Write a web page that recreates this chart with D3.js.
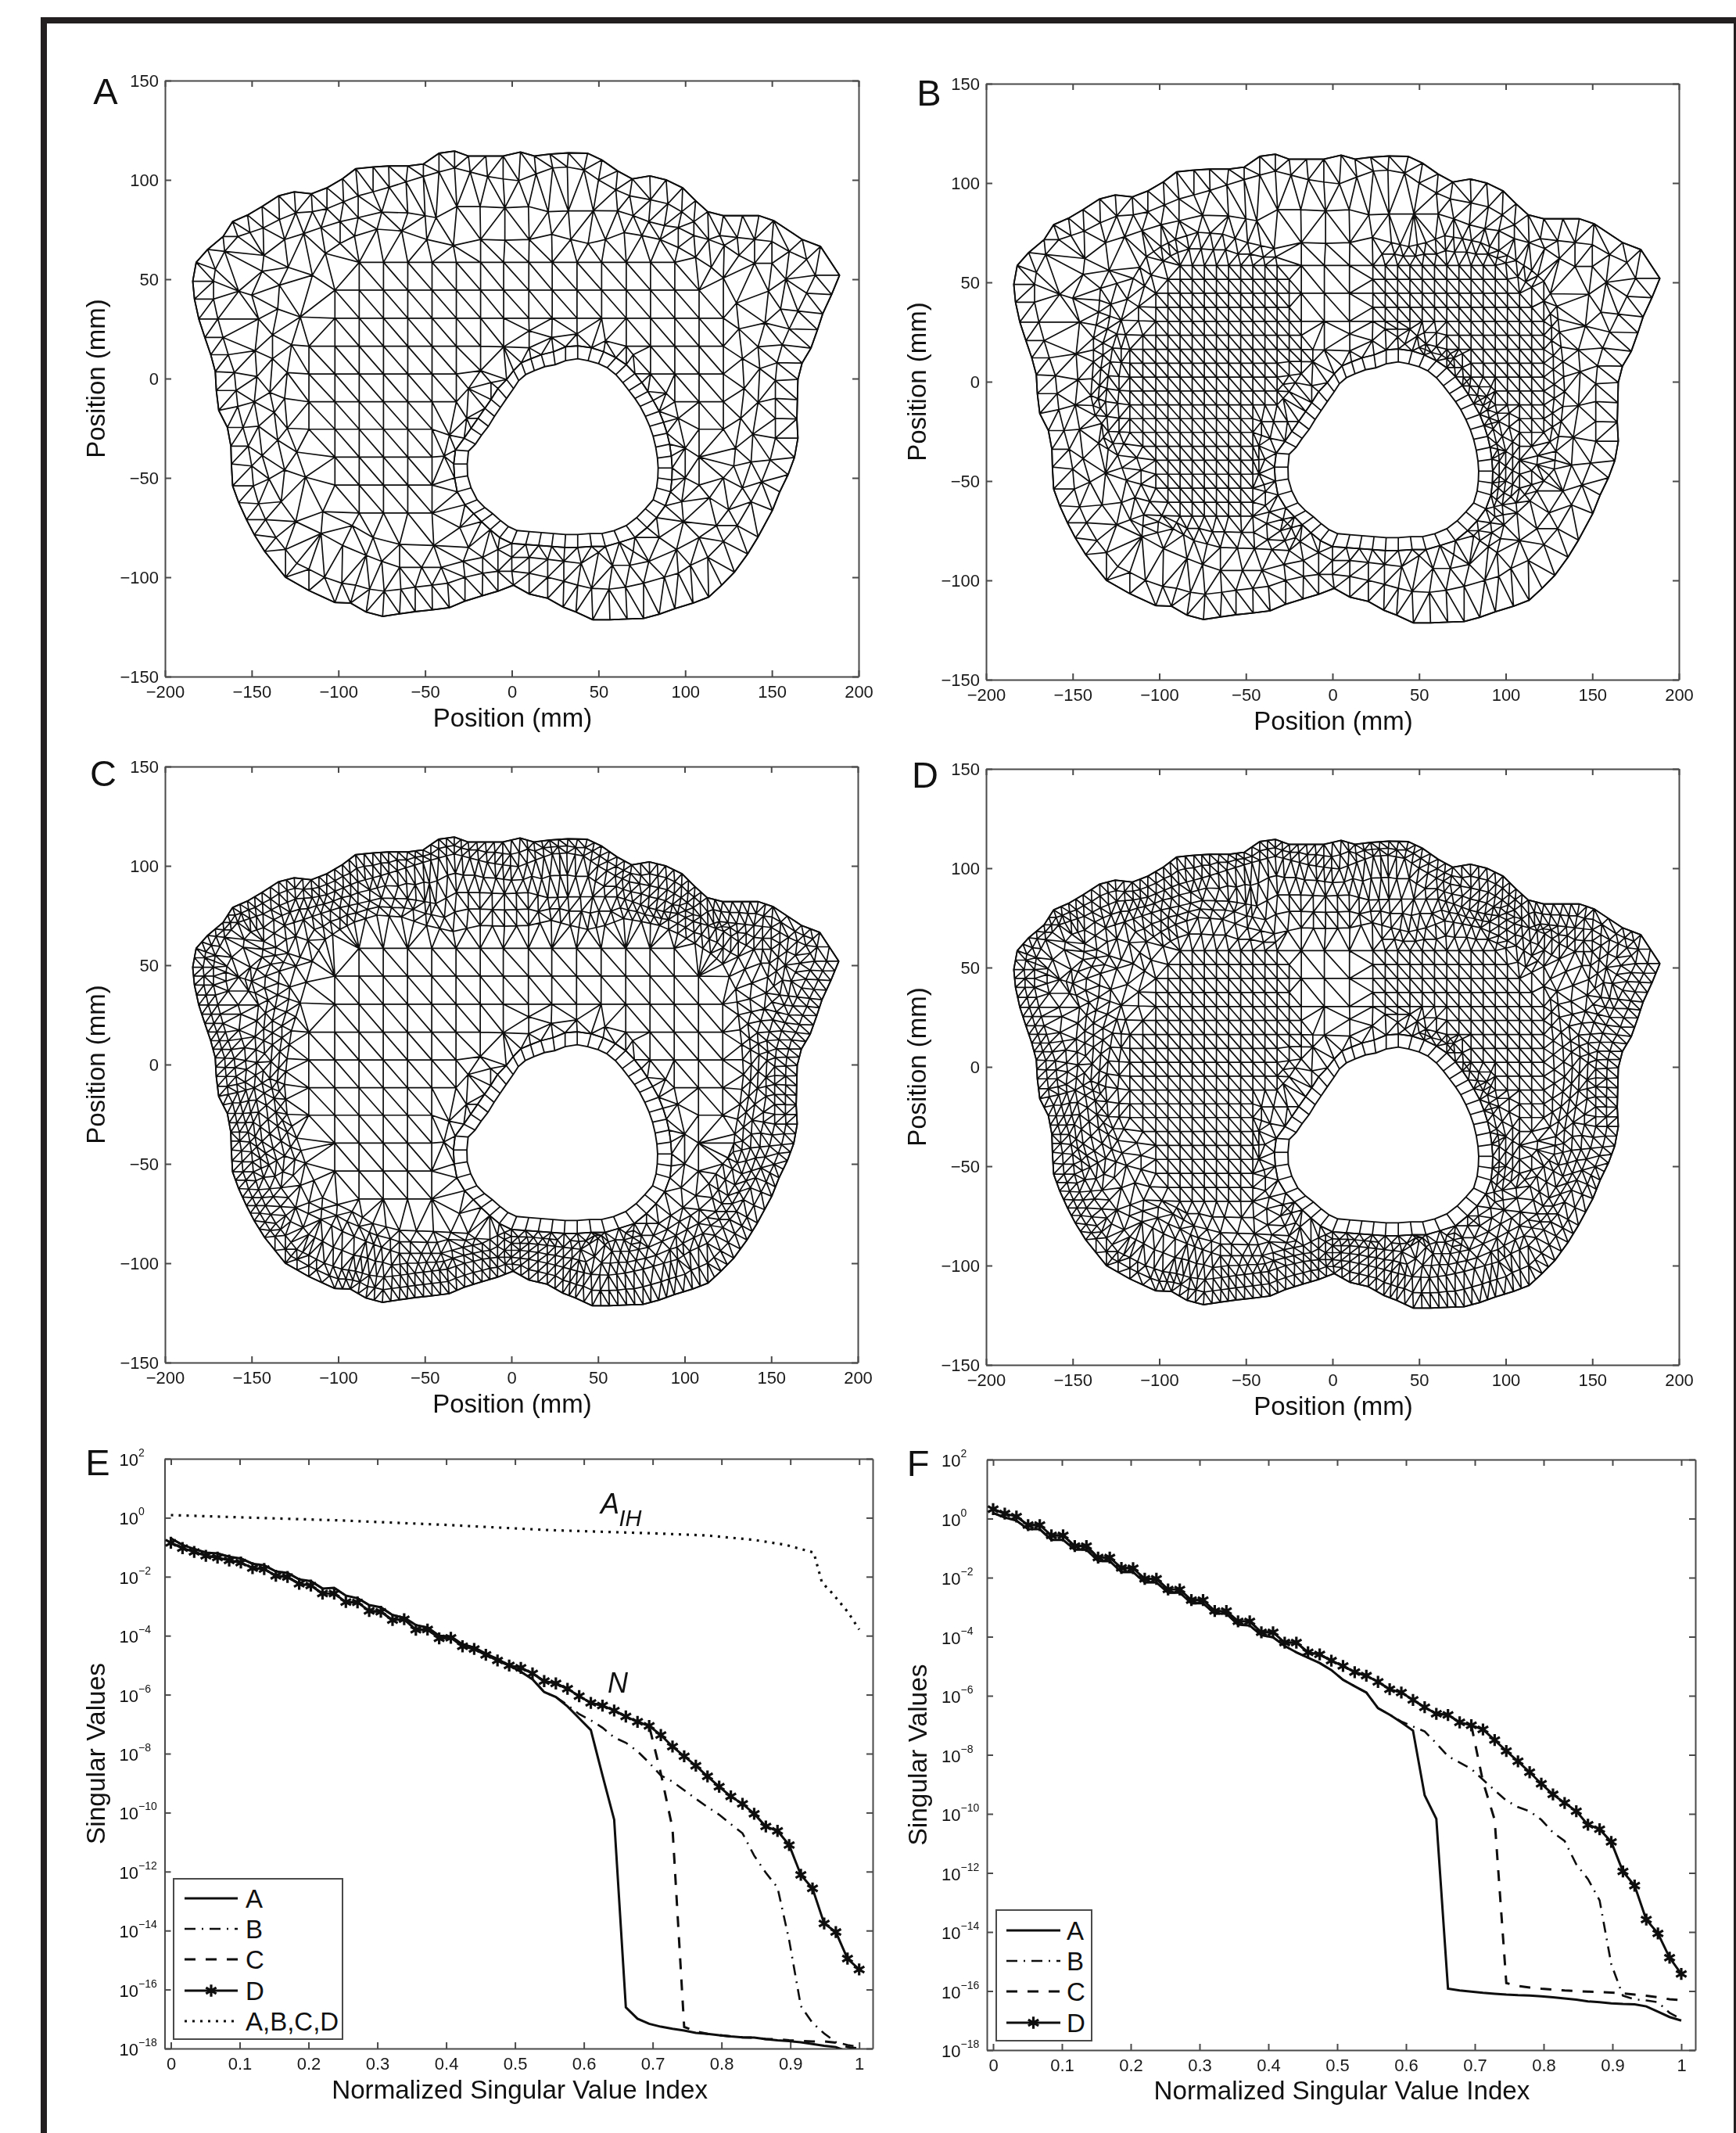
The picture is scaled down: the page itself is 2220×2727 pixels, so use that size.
<!DOCTYPE html>
<html><head><meta charset="utf-8">
<script src="https://cdnjs.cloudflare.com/ajax/libs/d3/7.8.5/d3.min.js"></script>
<style>
html,body{margin:0;padding:0;background:#fff}
svg{display:block;filter:blur(0.55px)}
text{font-family:"Liberation Sans",Arial,sans-serif;fill:#111}
</style></head><body>
<svg id="fig" width="2220" height="2727"></svg>
<script>
// ---------- mesh node data (mm) ----------
const outlineNodes=[[189,52],[178,66.5],[167.5,70],[151,79.5],[142.5,82],[133,82],[122,82],[113,84],[106,89.5],[98.5,96],[89,100],[79.6,102],[69.5,100.5],[61,104.5],[52,110],[43.7,113.4],[32.6,113.6],[22,113],[13,112],[5,114],[-5,112],[-15,112],[-25,112],[-33,114.5],[-42,113.4],[-51,108],[-60,107],[-71,107],[-80,106.5],[-90,105.6],[-97.6,100.6],[-106.6,96],[-115.6,93],[-125.4,94],[-134.4,92],[-144,86.6],[-152.4,82.3],[-161,79],[-166.5,71.5],[-175.4,65],[-182,58.5],[-184,49],[-183,40],[-180.5,30],[-177,20.7],[-173.6,12],[-171,3.5],[-170.4,-6],[-169,-16],[-164,-24.6],[-162,-34],[-161.7,-43],[-161,-54],[-157.5,-62.4],[-153,-71],[-148.5,-78.6],[-142.5,-87],[-130.5,-100],[-117,-106.7],[-102,-112.7],[-93,-113],[-84,-117.5],[-74.5,-119.7],[-64.7,-118.4],[-55.7,-117.3],[-45.8,-116.4],[-36,-115.3],[-27,-112],[-17,-109.3],[-8,-107],[1,-104],[10,-108.4],[20.7,-110.6],[29.6,-115],[37,-117.5],[46.7,-121.4],[56.6,-121.4],[66.5,-121],[76,-120.7],[85,-118.6],[94,-115.8],[104.5,-113],[113.5,-110],[121,-104],[128.4,-97.4],[136,-88.3],[142,-79.7],[150.3,-66.3],[154.5,-57],[159.3,-48.4],[163,-39.7],[165,-30],[164.4,-20.3],[164.7,-10.6],[165,-0.4],[167.4,7.8],[172.5,15.3],[176.3,24.6],[179.3,32.6],[184.4,42.3]];
const holeNodes=[[38,10],[44,9],[50,7.5],[55,5.5],[60,2],[64,-2],[67.5,-6],[71,-10],[74,-14],[77,-19],[79.5,-24],[81.5,-29],[83,-34.5],[84,-40],[84.4,-45],[84.2,-50],[83.5,-55],[81.5,-61],[77,-65.5],[72,-70],[66,-74],[59,-76.5],[52,-78],[45,-78],[38,-78.5],[31,-78.5],[24,-78],[17,-77.5],[10,-77],[3,-76.5],[-2,-74.5],[-6.5,-71.5],[-11,-68],[-15.5,-65],[-20,-61],[-23.5,-55],[-25.5,-49],[-25.7,-43],[-25,-36.5],[-21,-33],[-17.5,-28.5],[-13.5,-24],[-10,-19],[-6.5,-14.5],[-3,-10],[1,-5],[4,-1],[8,2],[13,4],[19,6],[25,7],[31,9]];
const ringNodes=[[38,16.5],[46,15.5],[53,13.5],[60,10.5],[66,7],[71,2.5],[75,-2],[78.5,-6.5],[81.5,-11],[85,-16.5],[87.5,-22],[89.5,-27.5],[91,-33],[92,-39],[92.5,-45],[92.3,-51],[91.5,-57],[88.5,-64],[83.5,-70],[78,-75],[71,-80],[62,-82.5],[54,-84.5],[46,-84.5],[38,-85],[30.5,-85],[23,-84.5],[15.5,-84],[8,-83.5],[0,-83],[-7,-80],[-12.5,-76],[-17.5,-72],[-22,-68],[-27,-63.5],[-31.5,-57],[-33,-50],[-33.5,-43],[-32.5,-36],[-27.5,-30],[-23.5,-25],[-19.5,-20],[-15.5,-15],[-12,-10.5],[-8,-5],[-3,-0.5],[1,4],[5.5,8],[11,10],[17,12],[24,13.5],[31,16]];
const contourL1=[[175,52],[170,60],[160,64],[150,69],[140,70],[130,71],[120,72],[112,74],[105,79],[98,84],[90,88],[80,90],[68,92],[60,95],[50,100],[41.6,105],[32,106.5],[23.6,106],[14,103],[4,99.6],[-5,100.5],[-14,101.7],[-24,104],[-33,106],[-42,104],[-51,101.7],[-61,99],[-70.7,96.3],[-80,94],[-88.6,92],[-97,89],[-106.6,85.5],[-115,84],[-124.6,83.4],[-134,80],[-143.4,75.8],[-151,73.5],[-158,71.5],[-165.6,64],[-171,55],[-172,49],[-172,40],[-169.5,30],[-166.5,20.7],[-163.5,12],[-160,3],[-159,-6],[-158,-14],[-155,-24.6],[-152,-34],[-150,-44],[-149,-54],[-146,-63],[-142,-71],[-136,-80],[-130.5,-86],[-124,-93],[-117,-96],[-108,-100],[-98,-103],[-90,-104],[-82,-106],[-73.6,-107],[-64,-106],[-55.7,-105],[-46,-104],[-37,-103],[-27,-100],[-16.8,-98],[-8,-97],[0,-97],[10,-98],[20.7,-100],[30,-102],[38,-104],[46,-105.6],[56,-106],[65.6,-105],[76,-103],[88,-100],[96,-98],[103,-94],[113,-90],[122,-82],[130,-74],[138,-62],[144,-52],[149,-41],[152,-30],[152,-20],[152,-10],[152,-1],[153,8],[156,17],[160,25],[165,34],[170,43]];
const contourL2=[[-143,62],[-131,70],[-120,73],[-110,76],[-99,79],[-88.6,81],[-75,83.8],[-60,83.4],[-50,82],[-43.7,81],[-31.7,86.6],[-18.3,86.6],[-4,86],[9.6,86.6],[21,84],[32.6,84.4],[47,84.5],[61,84.4],[70,82],[79,79],[88,77],[96,76],[105,72],[113.5,70],[122.5,67],[131,62],[140,58],[150,58],[158,50],[148,44],[155,35],[146,28],[142,16],[143,5],[136,-2],[142,-12],[133,-20],[139,-28],[133,-33],[138,-42],[128,-44],[133,-55],[125,-66],[118,-74],[108,-80],[95,-86],[79,-92],[68,-94],[58,-94],[40,-93],[30,-92],[20.7,-91],[10,-90],[0,-90],[-8,-90],[-16.8,-90],[-28,-92],[-40.7,-95],[-52,-95],[-64.7,-95],[-75,-92],[-84,-89],[-97.6,-84],[-110,-78],[-124.6,-72],[-133,-62],[-140,-50.5],[-131,-46],[-144,-38.7],[-135,-31],[-146,-24],[-137,-17],[-148.5,-11.7],[-139.5,-7],[-147,1],[-138,10],[-148,14],[-138,22],[-146,30],[-135,35],[-150,42],[-134,47],[-157.5,44],[-144,54],[-129,56]];
const contourL3=[[-107.5,63],[-99,68],[-90.7,71.7],[-77.7,75.2],[-63.5,74.3],[-49,70],[-33.7,67],[-18,70],[-4,69.6],[10,70],[23,72.6],[34,70],[44,68],[54,70],[64.8,73.5],[75,72],[85.5,70],[96,66],[106,61],[115,56],[122,50.6],[129.5,38],[131,25],[133,10],[134,-5],[132,-20],[129,-35],[122,-50],[114,-60],[99,-72],[85,-80],[70,-87],[50,-87.5],[30,-87.5],[10,-87],[-8,-86],[-25,-85],[-45,-84],[-64.7,-83.4],[-80,-80],[-92,-74],[-109,-67],[-119,-49.6],[-124,-37],[-129.5,-25],[-131,-10],[-129.5,3],[-127,17],[-122,31],[-115,52]];
const contourR2=[[23,20.7],[37.6,22.5],[54,19],[70,12],[80,5],[89,-7.4],[96,-20],[100,-35],[100,-50],[98,-62],[-39,-39],[-36,-51],[-31,-65],[-18,-74],[-36,-28.5],[-26,-20],[-18,-11],[-12,-2],[0,6.7],[10,15.5],[-32,-11.7],[-18,4],[-25,-5],[-4.7,16],[10,24],[94,-39],[94,-53],[-46,-70],[-30,-75]];
const gridRows=[
 [58.5,[-88,-74,-60,-46,-32,-18,-4.7,9.8,23.3,37.6,51.8,66,80,94]],
 [44.5,[-102,-88,-74,-60,-46,-32,-18,-4.7,9.8,23.3,37.6,51.8,66,80,94,108]],
 [30.4,[-102,-88,-74,-60,-46,-32,-18,-4.7,9.8,23.3,37.6,51.8,66,80,94,108,122]],
 [16.3,[-117,-102,-88,-74,-60,-46,-32,-18,66,80,94,108,122]],
 [2.3,[-117,-102,-88,-74,-60,-46,-32,80,94,108,122]],
 [-11.7,[-117,-102,-88,-74,-60,-46,94,108,122]],
 [-25.5,[-117,-102,-88,-74,-60,-46,108,122]],
 [-39.5,[-102,-88,-74,-60,-46,108]],
 [-53.6,[-102,-88,-74,-60,-46,108]],
 [-67.7,[-88,-74,-60,-46]]
];
const lobeLeft=[[-109,63.7],[-91,70],[-78,75.6],[-58,72.8],[-43,69],[-31,63.7],[-25,48.6],[-21,31],[-13.5,12],[-18,1],[-31,-12],[-43,-29],[-40,-46.4],[-33,-61.6],[-16.5,-73.4],[-19.5,-81],[-40,-83],[-64,-84],[-85,-81],[-103,-74.5],[-117,-66],[-121,-46.4],[-132,-29],[-137,-7.5],[-135,20.5],[-129,48.6]];
const lobeRight=[[19.5,57],[28.4,62.6],[61.4,73.4],[88,69],[108,59.4],[127,40],[133,14],[136,-12],[129,-33.5],[121,-50.8],[112,-66],[97,-79],[88,-81],[76,-70],[85,-55],[84,-29],[79,-10],[64,10],[43,20.5],[28.4,25],[24,27],[21,42]];

// ---------- singular value data (exponents of ten) ----------
const tickExponents=[2,0,-2,-4,-6,-8,-10,-12,-14,-16,-18];
const indexTicks=[0,0.1,0.2,0.3,0.4,0.5,0.6,0.7,0.8,0.9,1];
const meshXTicks=[-200,-150,-100,-50,0,50,100,150,200];
const meshYTicks=[-150,-100,-50,0,50,100,150];
const eD=[-0.85,-1.03,-1.16,-1.29,-1.35,-1.45,-1.52,-1.71,-1.74,-1.97,-2.01,-2.24,-2.30,-2.57,-2.57,-2.86,-2.87,-3.16,-3.19,-3.47,-3.44,-3.80,-3.79,-4.09,-4.07,-4.36,-4.45,-4.65,-4.84,-5.01,-5.09,-5.28,-5.54,-5.62,-5.80,-6.05,-6.28,-6.37,-6.54,-6.74,-6.92,-7.06,-7.37,-7.76,-8.09,-8.41,-8.77,-9.12,-9.45,-9.70,-10.04,-10.47,-10.62,-11.10,-12.11,-12.57,-13.76,-14.05,-14.95,-15.32];
const eA=[-0.70,-0.92,-1.06,-1.18,-1.21,-1.32,-1.38,-1.56,-1.61,-1.82,-1.87,-2.09,-2.15,-2.40,-2.38,-2.64,-2.73,-2.96,-3.04,-3.30,-3.39,-3.64,-3.72,-4.00,-4.03,-4.29,-4.40,-4.61,-4.79,-5.01,-5.22,-5.48,-5.91,-6.08,-6.40,-6.80,-7.20,-8.74,-10.24,-16.60,-16.99,-17.16,-17.26,-17.33,-17.39,-17.47,-17.50,-17.55,-17.59,-17.62,-17.63,-17.68,-17.72,-17.75,-17.79,-17.85,-17.91,-17.95,-18.1,-18.2];
const eBtail=[-6.35,-6.66,-6.87,-7.12,-7.45,-7.63,-7.92,-8.31,-8.74,-8.95,-9.24,-9.53,-9.81,-10.07,-10.39,-10.70,-11.46,-12.04,-12.54,-14.33,-16.56,-17.13,-17.49,-17.78,-17.88,-17.95];
const eCtail=[-8.67,-10.53,-17.27,-17.42,-17.50,-17.55,-17.59,-17.62,-17.63,-17.68,-17.68,-17.72,-17.74,-17.76,-17.76,-17.80,-17.95,-18.0];
const eDottedX=[0,0.093,0.245,0.397,0.55,0.702,0.778,0.847,0.893,0.934,0.946,0.961,0.984,1];
const eDottedY=[0.09,0.02,-0.09,-0.24,-0.42,-0.53,-0.60,-0.75,-0.92,-1.18,-2.20,-2.56,-3.21,-3.79];
const fD=[0.32,0.17,0.07,-0.22,-0.22,-0.57,-0.57,-0.93,-0.93,-1.32,-1.32,-1.67,-1.68,-2.04,-2.04,-2.40,-2.40,-2.76,-2.76,-3.13,-3.13,-3.48,-3.48,-3.85,-3.85,-4.20,-4.20,-4.53,-4.60,-4.81,-4.99,-5.20,-5.32,-5.53,-5.78,-5.89,-6.14,-6.39,-6.61,-6.65,-6.90,-7.00,-7.14,-7.50,-7.87,-8.22,-8.59,-8.98,-9.34,-9.63,-9.91,-10.37,-10.52,-10.95,-11.95,-12.43,-13.58,-14.05,-14.87,-15.42];
const fA=[0.19,0.04,-0.07,-0.36,-0.36,-0.72,-0.72,-1.05,-1.05,-1.44,-1.44,-1.81,-1.81,-2.16,-2.16,-2.51,-2.51,-2.87,-2.87,-3.22,-3.22,-3.59,-3.62,-3.95,-4.02,-4.31,-4.53,-4.71,-4.89,-5.13,-5.46,-5.68,-5.89,-6.42,-6.64,-6.90,-7.18,-9.37,-10.17,-15.92,-15.98,-16.02,-16.06,-16.09,-16.12,-16.14,-16.15,-16.18,-16.21,-16.25,-16.29,-16.35,-16.38,-16.42,-16.44,-16.45,-16.52,-16.70,-16.88,-17.0];
const fBtail=[-6.42,-6.64,-6.87,-7.04,-7.21,-7.61,-8.05,-8.26,-8.48,-8.84,-9.20,-9.55,-9.77,-9.91,-10.20,-10.63,-10.92,-11.71,-12.21,-12.93,-15.09,-16.16,-16.28,-16.32,-16.38,-16.74,-16.95];
const fCtail=[-8.91,-10.20,-15.73,-15.83,-15.88,-15.92,-15.95,-15.98,-16.0,-16.02,-16.03,-16.05,-16.08,-16.12,-16.16,-16.21,-16.28,-16.31];
const eB=eA.slice(0,34).concat(eBtail), eC=eD.slice(0,42).concat(eCtail);
const fB=fA.slice(0,33).concat(fBtail), fC=fD.slice(0,42).concat(fCtail);

// ---------- mesh construction ----------
const inPoly=(p,poly)=>d3.polygonContains(poly,p);
function collect(groups,minDist){
  const out=[];
  groups.forEach(g=>g.forEach(p=>{
    if(!out.some(q=>Math.hypot(q[0]-p[0],q[1]-p[1])<minDist)) out.push(p);
  }));
  return out;
}
const gridNodes=gridRows.flatMap(([y,xs])=>xs.map(x=>[x,y]));
const baseNodes=collect([outlineNodes,ringNodes,gridNodes,contourR2,contourL3,contourL2,contourL1],5);
const ringKey=new Set(ringNodes.map(String));
function triangulate(nodes){
  // a slight shear settles the tie on square cells, as the reference's diagonals do
  const del=d3.Delaunay.from(nodes,p=>p[0]+0.04*p[1],p=>p[1]);
  const tris=[],t=del.triangles;
  for(let i=0;i<t.length;i+=3){
    const a=nodes[t[i]],b=nodes[t[i+1]],c=nodes[t[i+2]];
    const m=[(a[0]+b[0]+c[0])/3,(a[1]+b[1]+c[1])/3];
    if(inPoly(m,outlineNodes)&&!inPoly(m,ringNodes)) tris.push([a,b,c,m]);
  }
  return tris;
}
function refine(nodes,tris,pred){
  const seen=new Map(nodes.map(n=>[n.map(v=>v.toFixed(3)).join(),n]));
  tris.filter(t=>pred(t[3])).forEach(([a,b,c])=>{
    [[a,b],[b,c],[c,a]].forEach(([p,q])=>{
      if(ringKey.has(String(p))&&ringKey.has(String(q))) return;
      const mid=[(p[0]+q[0])/2,(p[1]+q[1])/2];
      seen.set(mid.map(v=>v.toFixed(3)).join(),mid);
    });
  });
  return [...seen.values()];
}
const baseTris=triangulate(baseNodes);
const inLobes=m=>inPoly(m,lobeLeft)||inPoly(m,lobeRight);
const inBand=m=>!inPoly(m,contourL3);
const meshA=baseTris;
const meshB=triangulate(refine(baseNodes,baseTris,inLobes));
const meshC=triangulate(refine(baseNodes,baseTris,inBand));
const meshD=triangulate(refine(baseNodes,baseTris,m=>inLobes(m)||inBand(m)));

// ---------- drawing ----------
const svg=d3.select("#fig");
const INK="#0e0e0e",AXIS="#4a4a4a";
svg.append("rect").attr("x",52).attr("y",22).attr("width",8).attr("height",2705).attr("fill","#231f20");
svg.append("rect").attr("x",52).attr("y",22).attr("width",2168).attr("height",8).attr("fill","#231f20");
svg.append("rect").attr("x",2217).attr("y",22).attr("width",3).attr("height",2705).attr("fill","#231f20");

function frameAxes(g,x,y,w,h,xt,yt,xf,yf){
  const style=s=>{s.selectAll("path").attr("stroke",AXIS).attr("stroke-width",2).attr("fill","none");
    s.selectAll("line").attr("stroke",AXIS).attr("stroke-width",2);
    s.selectAll("text").style("font-size","22px").style("fill","#1a1a1a").style("font-family","'Liberation Sans',Arial,sans-serif");};
  g.append("g").attr("transform",`translate(0,${h})`).call(d3.axisBottom(x).tickValues(xt).tickFormat(xf).tickSize(-8).tickSizeOuter(0).tickPadding(11)).call(style);
  g.append("g").call(d3.axisTop(x).tickValues(xt).tickFormat("").tickSize(-8).tickSizeOuter(0)).call(style);
  g.append("g").call(d3.axisLeft(y).tickValues(yt).tickFormat(yf).tickSize(-8).tickSizeOuter(0).tickPadding(8)).call(style);
  g.append("g").attr("transform",`translate(${w},0)`).call(d3.axisRight(y).tickValues(yt).tickFormat("").tickSize(-8).tickSizeOuter(0)).call(style);
}
function label(txt,x,y,size,rot,style){
  const t=svg.append("text").attr("text-anchor","middle").attr("dominant-baseline","central")
    .style("font-size",size+"px").text(txt);
  if(style) t.style("font-style",style);
  t.attr("transform",`translate(${x},${y})`+(rot?` rotate(${rot})`:""));
  return t;
}
const meshPanels=[
 {letter:"A",tris:meshA,l:211,r:1098,t:103,b:865,lx:135,ly:116,yl:122,xly:917},
 {letter:"B",tris:meshB,l:1261,r:2147,t:107,b:869,lx:1188,ly:118,yl:1172,xly:921},
 {letter:"C",tris:meshC,l:211,r:1097,t:980,b:1742,lx:132,ly:988,yl:122,xly:1794},
 {letter:"D",tris:meshD,l:1261,r:2147,t:983,b:1745,lx:1183,ly:990,yl:1172,xly:1797}
];
meshPanels.forEach(p=>{
  const w=p.r-p.l,h=p.b-p.t;
  const x=d3.scaleLinear().domain([-200,200]).range([0,w]);
  const y=d3.scaleLinear().domain([-150,150]).range([h,0]);
  const g=svg.append("g").attr("transform",`translate(${p.l},${p.t})`);
  frameAxes(g,x,y,w,h,meshXTicks,meshYTicks,d3.format(""),d3.format(""));
  const path=d3.path();
  const edges=new Map();
  p.tris.forEach(([a,b,c])=>[[a,b],[b,c],[c,a]].forEach(([s,e])=>{
    const k=[String(s),String(e)].sort().join("|");
    if(!edges.has(k)) edges.set(k,[s,e]);
  }));
  edges.forEach(([s,e])=>{path.moveTo(x(s[0]),y(s[1]));path.lineTo(x(e[0]),y(e[1]));});
  g.append("path").attr("d",path.toString()).attr("fill","none").attr("stroke",INK).attr("stroke-width",1.7);
  const closed=d3.line().x(d=>x(d[0])).y(d=>y(d[1])).curve(d3.curveLinearClosed);
  g.append("path").attr("d",closed(outlineNodes)).attr("fill","none").attr("stroke",INK).attr("stroke-width",1.9);
  g.append("path").attr("d",closed(ringNodes)).attr("fill","none").attr("stroke",INK).attr("stroke-width",1.7);
  g.append("path").attr("d",closed(holeNodes)).attr("fill","#fff").attr("stroke",INK).attr("stroke-width",1.9);
  g.selectAll("line.spoke").data(holeNodes).join("line").attr("class","spoke")
    .attr("x1",d=>x(d[0])).attr("y1",d=>y(d[1]))
    .attr("x2",(d,i)=>x(ringNodes[i][0])).attr("y2",(d,i)=>y(ringNodes[i][1]))
    .attr("stroke",INK).attr("stroke-width",1.7);
  label(p.letter,p.lx,p.ly,47);
  label("Position (mm)",(p.l+p.r)/2+1,p.xly,33);
  label("Position (mm)",p.yl,(p.t+p.b)/2,33,-90);
});

const lineStyles={A:{dash:null,w:3},B:{dash:"14 8 2 8",w:2.6},C:{dash:"14 13",w:3},D:{dash:null,w:3}};
const star=d3.symbol(d3.symbolAsterisk,165);
const curvePanels=[
 {letter:"E",l:210.5,r:1116,t:1865,b:2619,x0:218.5,x1:1098.7,lx:125,ly:1869,yl:122,series:{A:eA,B:eB,C:eC,D:eD},dotted:true,
  legend:{x:222,y:2402,w:216,h:205,rows:[2427,2466,2505,2545,2584],lineX:[236,304],textX:314}},
 {letter:"F",l:1262,r:2168,t:1866,b:2621,x0:1270,x1:2150,lx:1174,ly:1870,yl:1173,series:{A:fA,B:fB,C:fC,D:fD},dotted:false,
  legend:{x:1274,y:2442,w:122,h:167,rows:[2468,2507,2546,2586],lineX:[1287,1356],textX:1364}}
];
curvePanels.forEach((p,pi)=>{
  const w=p.r-p.l,h=p.b-p.t;
  const x=d3.scaleLinear().domain([(p.l-p.x0)/(p.x1-p.x0),(p.r-p.x0)/(p.x1-p.x0)]).range([0,w]);
  const y=d3.scaleLog().domain([1e-18,1e2]).range([h,0]);
  const g=svg.append("g").attr("transform",`translate(${p.l},${p.t})`);
  const xf=v=>v===0?"0":v===1?"1":v.toFixed(1);
  frameAxes(g,x,y,w,h,indexTicks,tickExponents.map(e=>Math.pow(10,e)),xf,()=>"");
  tickExponents.forEach(e=>{
    const t=g.append("text").attr("x",-58).attr("y",y(Math.pow(10,e))+9).style("font-size","22px");
    t.append("tspan").text("10");
    t.append("tspan").attr("dy",-12).style("font-size","14px").text(String(e).replace("-","\u2212"));
  });
  const clipId="clip"+p.letter;
  svg.append("clipPath").attr("id",clipId).append("rect").attr("x",p.l).attr("y",p.t).attr("width",w).attr("height",h);
  const clipG=svg.append("g").attr("clip-path",`url(#${clipId})`).append("g").attr("transform",`translate(${p.l},${p.t})`);
  const lineGen=d3.line().x((d,i,a)=>x(i/(a.length-1))).y(d=>y(Math.pow(10,d)));
  if(p.dotted){
    const dotted=d3.line().x((d,i)=>x(eDottedX[i])).y(d=>y(Math.pow(10,d)));
    clipG.append("path").attr("d",dotted(eDottedY)).attr("fill","none").attr("stroke",INK).attr("stroke-width",3.2).attr("stroke-dasharray","3 7");
  }
  ["A","B","C","D"].forEach(k=>{
    clipG.append("path").attr("d",lineGen(p.series[k])).attr("fill","none").attr("stroke",INK)
      .attr("stroke-width",lineStyles[k].w).attr("stroke-dasharray",lineStyles[k].dash);
  });
  g.selectAll("path.star").data(p.series.D).join("path").attr("class","star").attr("d",star)
    .attr("transform",(d,i,a)=>`translate(${x(i/(a.length-1))},${y(Math.pow(10,d))})`)
    .attr("fill","none").attr("stroke",INK).attr("stroke-width",3.2);
  label(p.letter,p.lx,p.ly,47);
  label("Normalized Singular Value Index",(p.x0+p.x1)/2+6,2671+pi*1,33.2);
  label("Singular Values",p.yl,(p.t+p.b)/2,33.5,-90);
  // legend
  const L=p.legend;
  svg.append("rect").attr("x",L.x).attr("y",L.y).attr("width",L.w).attr("height",L.h).attr("fill","#fff").attr("stroke",AXIS).attr("stroke-width",2);
  const names=p.dotted?["A","B","C","D","A,B,C,D"]:["A","B","C","D"];
  names.forEach((n,i)=>{
    const yy=L.rows[i];
    const ln=svg.append("line").attr("x1",L.lineX[0]).attr("x2",L.lineX[1]).attr("y1",yy).attr("y2",yy).attr("stroke",INK);
    if(n==="A,B,C,D") ln.attr("stroke-width",3.2).attr("stroke-dasharray","3 7");
    else ln.attr("stroke-width",lineStyles[n].w).attr("stroke-dasharray",lineStyles[n].dash);
    if(n==="D") svg.append("path").attr("d",star).attr("transform",`translate(${(L.lineX[0]+L.lineX[1])/2},${yy})`).attr("fill","none").attr("stroke",INK).attr("stroke-width",3.2);
    svg.append("text").attr("x",L.textX).attr("y",yy).attr("dominant-baseline","central").style("font-size","33px").text(n);
  });
});
label("A",780,1922,36,0,"italic");
label("IH",806,1941,29,0,"italic");
label("N",790,2151,36,0,"italic");
</script>
</body></html>
